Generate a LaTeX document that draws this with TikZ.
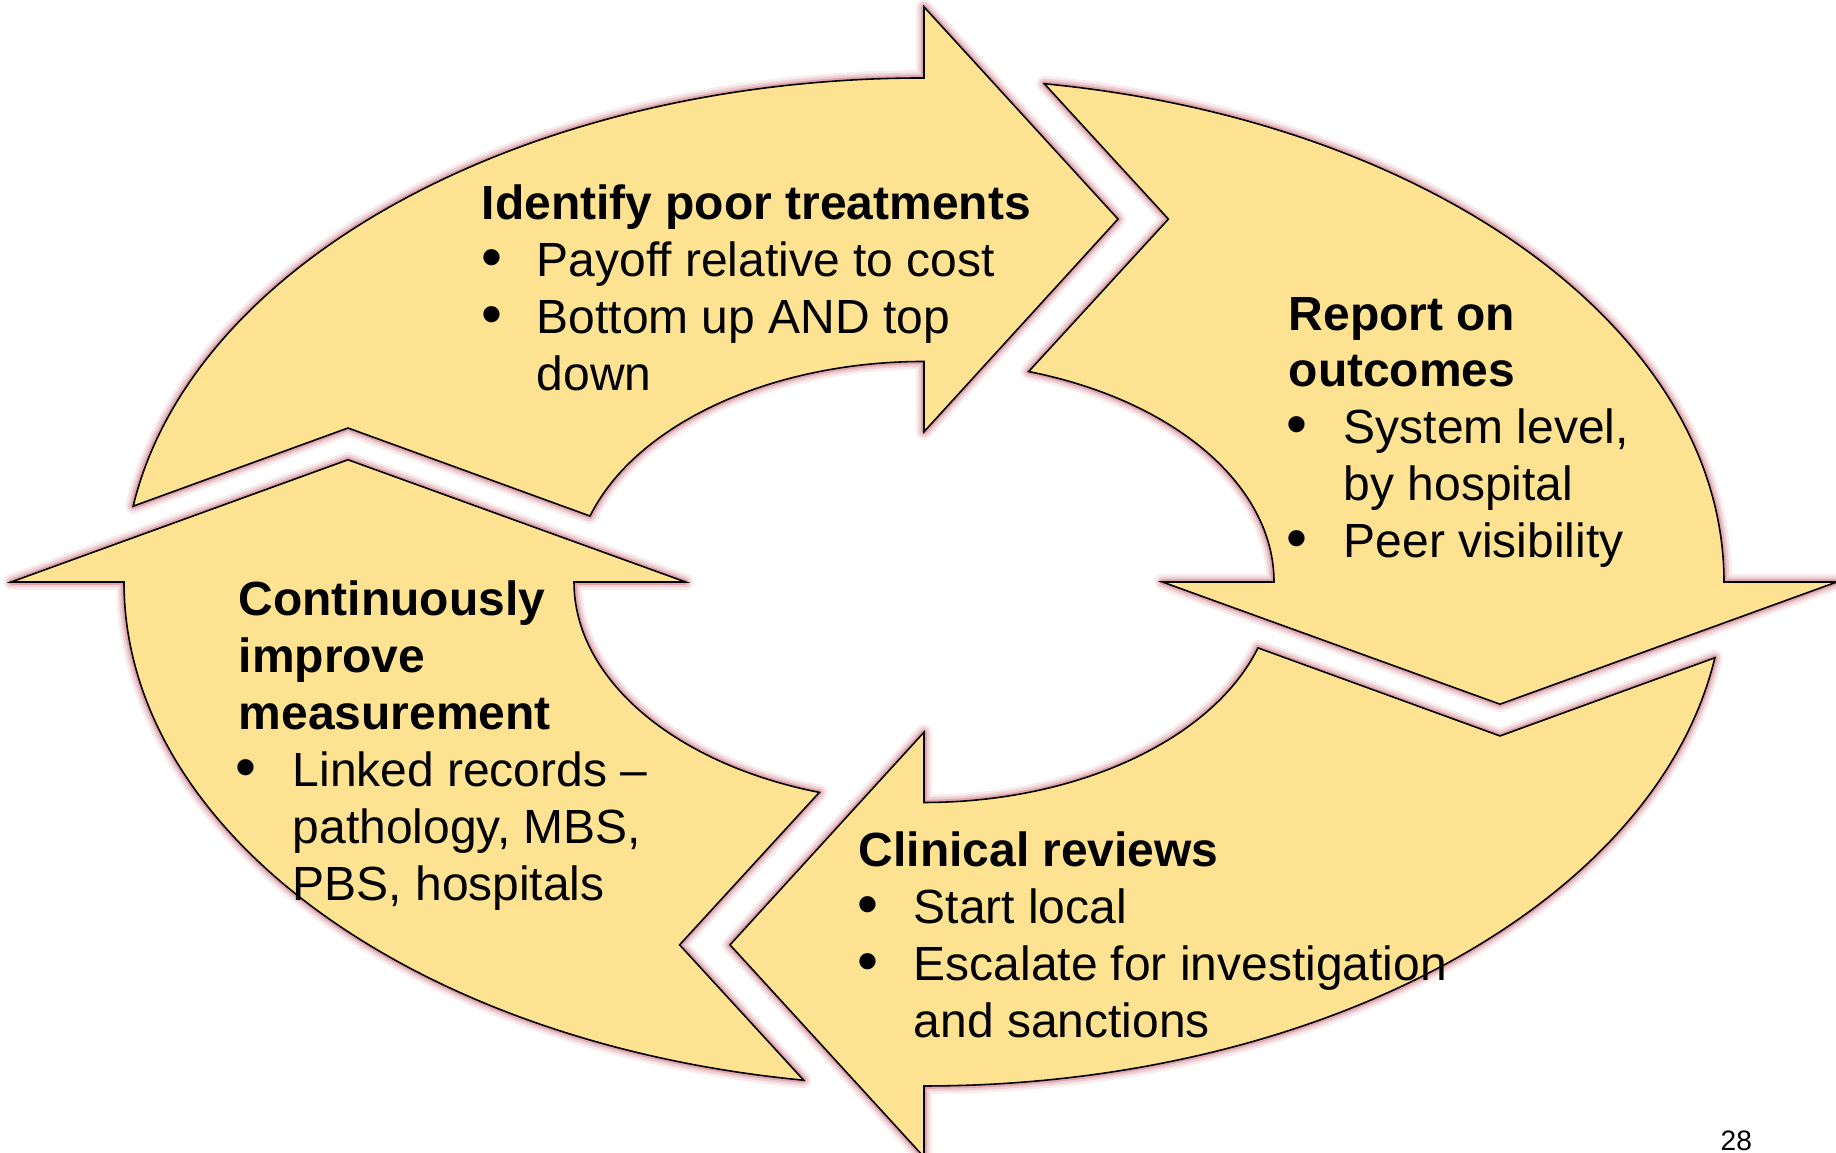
\documentclass[tikz,border=0pt]{standalone}
\usepackage{fontspec}
\setmainfont{Liberation Sans}
\definecolor{cyclefill}{RGB}{252,226,145}
\definecolor{cycleglow}{RGB}{185,60,75}
\newcommand{\cyclearrow}{(171.35:1) arc[start angle=171.35, end angle=90, radius=1] -- (0,1.141) -- (0.2425,0.72) -- (0,0.298) -- (0,0.4375) arc[start angle=90, end angle=162.6, radius=0.4375] -- (-0.72,0.3055) -- cycle}

\begin{document}
\begin{tikzpicture}
\tikzstyle{every node}=[inner sep=0pt,anchor=base west,font=\fontsize{13.65}{16.2}\selectfont]
\tikzstyle{head}=[font=\fontsize{13.65}{16.2}\selectfont\bfseries]
\tikzstyle{dot}=[anchor=base,font=\fontsize{17}{17}\selectfont]
\useasboundingbox (0,0) rectangle (18.36,11.53);
\begin{scope}[shift={(9.24,5.71)},xscale=8,yscale=5.04]
\foreach \k in {0,1,2,3}{
\begin{scope}[rotate=-90*\k]
\foreach \w/\o in {4.5/0.1,3/0.16,1.6/0.28}
  \draw[cycleglow,line width=\w pt,opacity=\o,line join=round] \cyclearrow;
\draw[fill=cyclefill,line width=0.45pt] \cyclearrow;
\end{scope}
}
\end{scope}
\node[head](t0) at (4.81,9.33) {Identify poor treatments};
\node[dot](tb1) at (4.92,8.75) {•};
\node(t1) at (5.36,8.76) {Payoff relative to cost};
\node[dot](tb2) at (4.92,8.18) {•};
\node(t2) at (5.36,8.19) {Bottom up AND top};
\node(t3) at (5.36,7.62) {down};
\node[head](r0) at (12.88,8.22) {Report on};
\node[head](r1) at (12.88,7.66) {outcomes};
\node[dot](rb1) at (12.97,7.08) {•};
\node(r2) at (13.43,7.09) {System level,};
\node(r3) at (13.43,6.52) {by hospital};
\node[dot](rb2) at (12.97,5.94) {•};
\node(r4) at (13.43,5.95) {Peer visibility};
\node[head](b0) at (8.58,2.86) {Clinical reviews};
\node[dot](bb1) at (8.68,2.28) {•};
\node(b1) at (9.13,2.29) {Start local};
\node[dot](bb2) at (8.68,1.71) {•};
\node(b2) at (9.13,1.72) {Escalate for investigation};
\node(b3) at (9.13,1.15) {and sanctions};
\node[head](l0) at (2.38,5.37) {Continuously};
\node[head](l1) at (2.38,4.80) {improve};
\node[head](l2) at (2.38,4.23) {measurement};
\node[dot](lb1) at (2.46,3.65) {•};
\node(l3) at (2.92,3.66) {Linked records –};
\node(l4) at (2.92,3.09) {pathology, MBS,};
\node(l5) at (2.92,2.52) {PBS, hospitals};
\node[font=\fontsize{8}{9.6}\selectfont](page) at (17.20,0.02) {28};
\end{tikzpicture}
\end{document}
